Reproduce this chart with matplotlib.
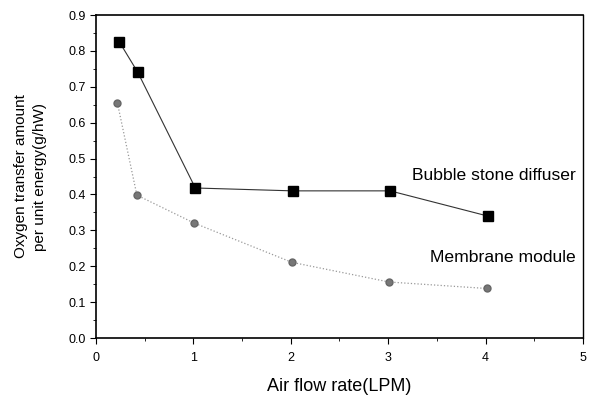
import matplotlib
matplotlib.use("Agg")
import matplotlib.pyplot as plt
from matplotlib.ticker import MultipleLocator

plt.rcParams["font.family"] = ["Liberation Sans", "DejaVu Sans"]

# data
bubble_x = [0.24, 0.43, 1.02, 2.02, 3.02, 4.02]
bubble_y = [0.825, 0.74, 0.418, 0.41, 0.41, 0.34]
membrane_x = [0.22, 0.42, 1.01, 2.01, 3.01, 4.01]
membrane_y = [0.655, 0.398, 0.32, 0.211, 0.156, 0.138]

fig = plt.figure(figsize=(5.91, 3.95), dpi=100)
ax = fig.add_axes([0.1624, 0.1443, 0.8240, 0.8177])

ax.plot(bubble_x, bubble_y, color="#333333", lw=0.8, marker="s", ms=7,
        mfc="black", mec="black")
ax.plot(membrane_x, membrane_y, color="#999999", lw=0.9, ls=":", marker="o",
        ms=5, mfc="#777777", mec="#666666")

ax.text(4.93, 0.454, "Bubble stone diffuser", fontsize=12.6, va="center", ha="right")
ax.text(4.93, 0.223, "Membrane module", fontsize=12.6, va="center", ha="right")

ax.set_xlim(0, 5)
ax.set_ylim(0, 0.9)
ax.xaxis.set_major_locator(MultipleLocator(1))
ax.xaxis.set_minor_locator(MultipleLocator(0.5))
ax.yaxis.set_major_locator(MultipleLocator(0.1))
ax.yaxis.set_minor_locator(MultipleLocator(0.05))
ax.yaxis.set_major_formatter(plt.FormatStrFormatter("%.1f"))
ax.tick_params(which="major", direction="out", length=4, labelsize=9)
ax.tick_params(axis="x", which="major", pad=6)
ax.tick_params(which="minor", direction="out", length=2)
for s in ["left", "bottom", "top"]:
    ax.spines[s].set_linewidth(1.2)
ax.spines["right"].set_linewidth(1.0)

ax.set_xlabel("Air flow rate(LPM)", fontsize=13, labelpad=10)
ax.set_ylabel("Oxygen transfer amount\nper unit energy(g/hW)", fontsize=11,
              labelpad=15, linespacing=1.5)

fig.savefig("out.png", dpi=100)
